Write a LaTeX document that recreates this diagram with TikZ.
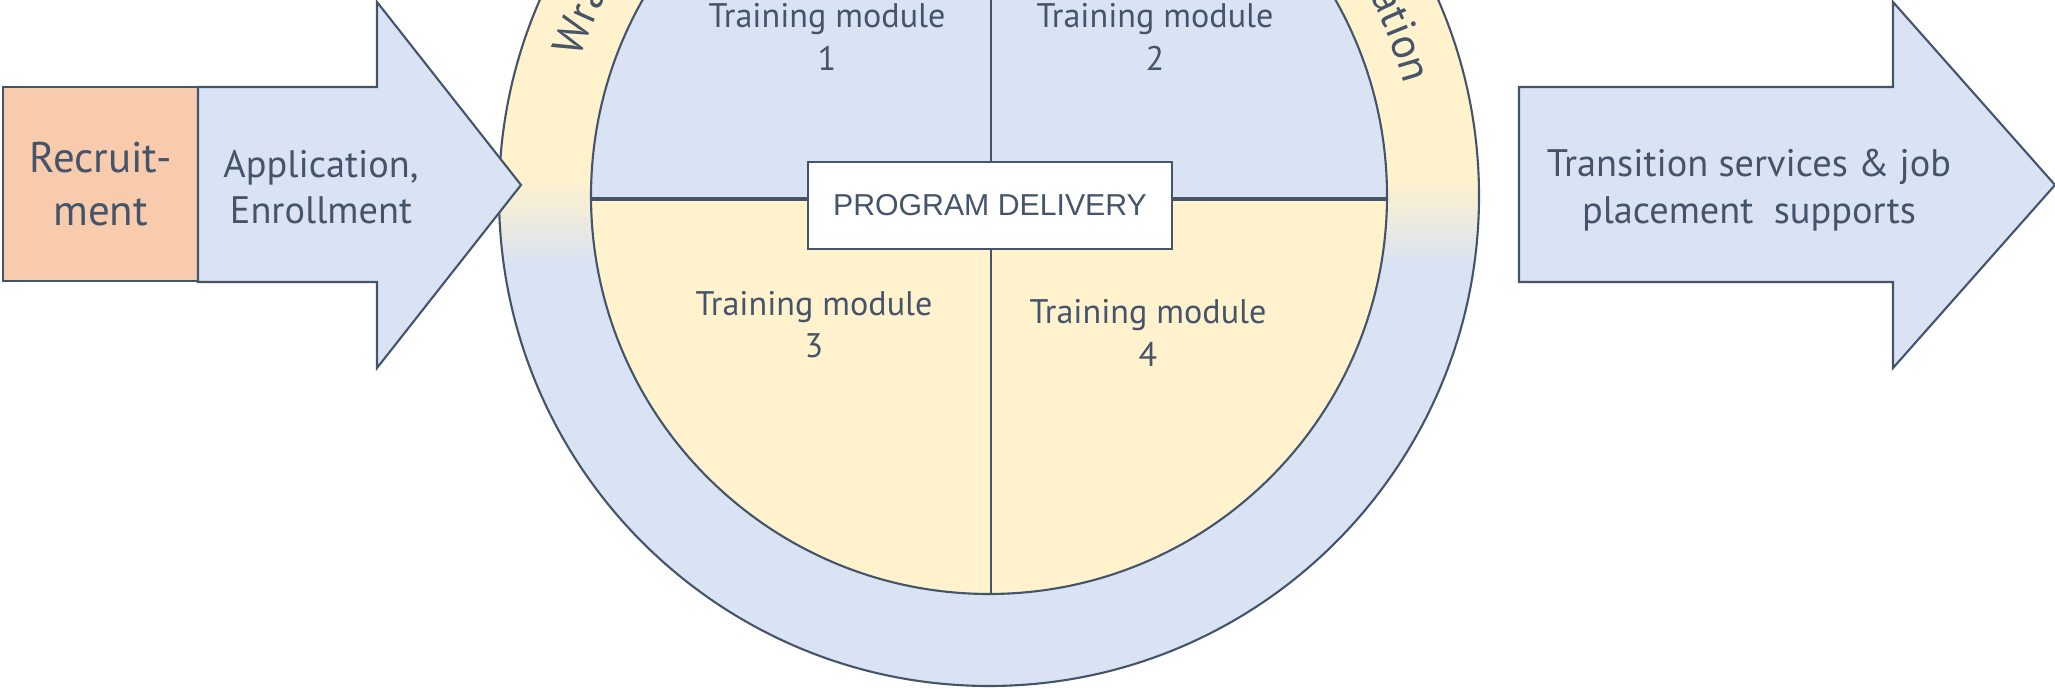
\documentclass[tikz,border=0pt]{standalone}
\usepackage{fontspec}
\setmainfont{PT Sans}
\newfontfamily\boxfont{Liberation Sans}
\usepackage{tikz}
\usetikzlibrary{positioning,decorations.text}

\definecolor{lineslate}{HTML}{44546A}
\definecolor{fillblue}{HTML}{DAE3F3}
\definecolor{fillyellow}{HTML}{FFF2CC}
\definecolor{fillpeach}{HTML}{F8CBAD}

\tikzset{
  outline/.style={draw=lineslate, line width=0.6pt},
  lbl/.style={text=lineslate, align=center, inner sep=0pt},
  modlbl/.style={lbl, font=\fontsize{9.7}{12}\selectfont},
  arrowlbl/.style={lbl, font=\fontsize{10.9}{13.2}\selectfont},
  ringlbl/.style={decorate, decoration={text along path, text={|\color{lineslate}\fontsize{12.3}{14}\selectfont|#1}}},
}

\begin{document}
\begin{tikzpicture}[x=0.01cm, y=0.01cm]
    \useasboundingbox (0,0) rectangle (2055,689);
    \coordinate (c) at (989,493);
    % Outer ring
    \begin{scope}
      \clip (c) circle (490);
      \fill[fillblue] (c) circle (490);
      \fill[fillyellow] (400,511) rectangle (1600,1200);
      \shade[top color=fillyellow, bottom color=fillblue] (400,424) rectangle (1600,511);
    \end{scope}
    \draw[outline] (c) circle (490);
    % Inner disc
    \begin{scope}
      \clip (c) circle (398);
      \fill[fillyellow] (500,0) rectangle (1500,490);
      \fill[fillblue] (500,490) rectangle (1500,1000);
    \end{scope}
    \draw[outline] (c) circle (398);
    \coordinate (divL) at (591,490);
    \coordinate (divR) at (1387,490);
    \coordinate (divT) at (991,891);
    \coordinate (divB) at (991,95);
    \draw[draw=lineslate, line width=1pt] (divL) -- (divR);
    \draw[outline] (divT) -- (divB);
    % Ring text
    \path[ringlbl={Wra}, decoration={text align=left}] (c) ++(161.5:432) arc[start angle=161.5, end angle=110, radius=432];
    \path[ringlbl={ation}, decoration={text align=right}] (c) ++(70:430) arc[start angle=70, end angle=15, radius=430];
    % Nodes
    \node[outline, fill=fillpeach, minimum width=1.95cm, minimum height=1.94cm, lbl,
          font=\fontsize{12.2}{15.1}\selectfont] (recruit) at (100.5,505) {Recruit-\\ment};
    \draw[outline, fill=fillblue] (198,407) -- (377,407) -- (377,321) -- (521,504)
          -- (377,687) -- (377,602) -- (198,602) -- cycle;
    \node[arrowlbl] (apply) at (321,502) {Application,\\Enrollment};
    \draw[outline, fill=fillblue] (1519,407) -- (1893,407) -- (1893,321) -- (2055,504)
          -- (1893,687) -- (1893,602) -- (1519,602) -- cycle;
    \node[arrowlbl] (transit) at (1749,499) {Transition services \& job\\placement \ supports};
    \node[outline, fill=white, minimum width=3.64cm, minimum height=0.87cm, lbl,
          font=\boxfont\fontsize{8.6}{10}\selectfont] (delivery) at (990,483.5) {PROGRAM DELIVERY};
    \node[modlbl] (mod1) at (827,652) {Training module\\1};
    \node[modlbl] (mod2) at (1155,652) {Training module\\2};
    \node[modlbl] (mod3) at (814,364) {Training module\\3};
    \node[modlbl] (mod4) at (1148,356) {Training module\\4};
\end{tikzpicture}
\end{document}
